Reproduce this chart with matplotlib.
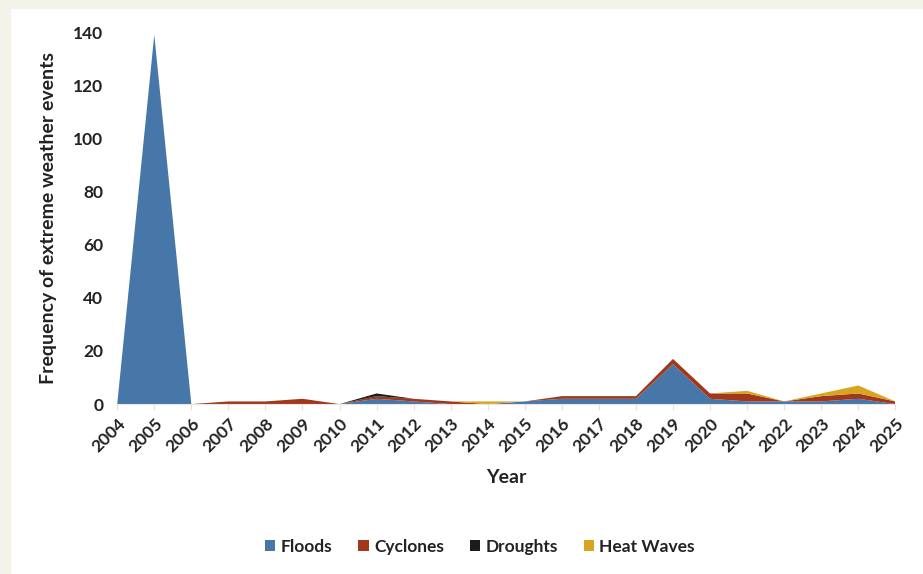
import matplotlib.pyplot as plt
from matplotlib.patches import Rectangle

years = list(range(2004, 2026))
floods = [0, 139, 0, 0, 0, 0, 0, 2, 1, 0, 0, 1, 2, 2, 2, 15, 2, 1, 1, 1, 2, 0]
cyclones = [0, 0, 0, 1, 1, 2, 0, 1, 1, 1, 0, 0, 1, 1, 1, 2, 2, 3, 0, 2, 2, 1]
droughts = [0, 0, 0, 0, 0, 0, 0, 1, 0, 0, 0, 0, 0, 0, 0, 0, 0, 0, 0, 0, 0, 0]
heat_waves = [0, 0, 0, 0, 0, 0, 0, 0, 0, 0, 1, 0, 0, 0, 0, 0, 0, 1, 0, 1, 3, 0]
labels = ['Floods', 'Cyclones', 'Droughts', 'Heat Waves']
colors = ['#4677a8', '#a1381b', '#1c1c1c', '#d9a521']

plt.rcParams['font.family'] = ['Lato', 'DejaVu Sans']
plt.rcParams['font.weight'] = 'bold'
plt.rcParams['axes.labelweight'] = 'bold'

fig = plt.figure(figsize=(9.23, 5.74), dpi=100, facecolor='white')
# cream strip at the left and top edges of the picture
fig.patches.append(Rectangle((0, 0), 10 / 923, 1, transform=fig.transFigure,
                             color='#f4f3ea', zorder=-1))
fig.patches.append(Rectangle((0, 1 - 8 / 574), 1, 8 / 574, transform=fig.transFigure,
                             color='#f4f3ea', zorder=-1))

ax = fig.add_axes([0.127, 0.296, 0.843, 0.648])
ax.set_facecolor('white')

ax.stackplot(years, floods, cyclones, droughts, heat_waves,
             labels=labels, colors=colors)

ax.set_xlim(2004, 2025)
ax.set_ylim(0, 140)
ax.set_xticks(years)
ax.set_xticklabels([str(y) for y in years], rotation=45, ha='right',
                   rotation_mode='anchor', fontsize=12.5, color='#222222')
ax.set_yticks(range(0, 141, 20))
ax.tick_params(axis='y', labelsize=12.5, labelcolor='#222222', length=0, pad=10)
ax.tick_params(axis='x', length=4, color='#eeddd0', pad=4)

for s in ['top', 'right', 'left']:
    ax.spines[s].set_visible(False)
ax.spines['bottom'].set_color('#e6e6e6')

ax.set_xlabel('Year', fontsize=14, color='#222222', labelpad=10)
ax.set_ylabel('Frequency of extreme weather events', fontsize=14, color='#222222', labelpad=12)

leg = fig.legend(loc='center', bbox_to_anchor=(0.52, 0.047), ncol=4, frameon=False,
                 prop={'size': 12.5, 'weight': 'bold'}, handlelength=0.6, handleheight=0.6,
                 columnspacing=1.5, handletextpad=0.3)
for t in leg.get_texts():
    t.set_color('#222222')

fig.savefig('out.png', dpi=100, facecolor=fig.get_facecolor())
